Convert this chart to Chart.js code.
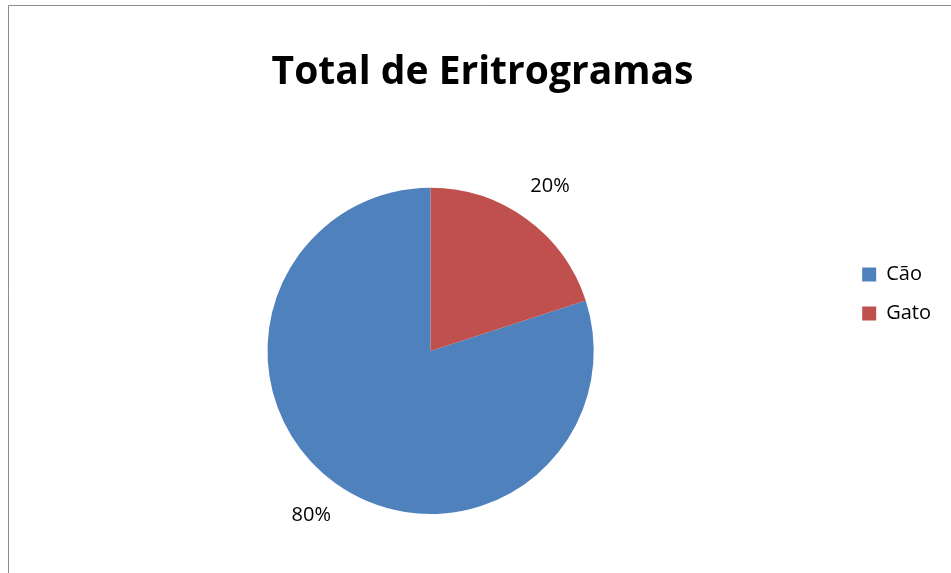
<!DOCTYPE html>
<html>
<head>
<meta charset="utf-8">
<script src="https://cdn.jsdelivr.net/npm/chart.js@4/dist/chart.umd.min.js"></script>
<style>
html,body{margin:0;padding:0;background:#fff;}
#wrap{width:951px;height:573px;position:relative;}
</style>
</head>
<body>
<div id="wrap"><canvas id="c" width="951" height="573"></canvas></div>
<script>
const categories = ['Cão', 'Gato'];
const values = [80, 20];
const percentLabels = ['80%', '20%'];
const colors = ['#4F81BD', '#C0504D'];
const chartTitle = 'Total de Eritrogramas';

const frame = {
  id: 'frame',
  beforeDraw(chart) {
    const ctx = chart.ctx;
    ctx.save();
    ctx.fillStyle = '#fff';
    ctx.fillRect(0, 0, chart.width, chart.height);
    ctx.strokeStyle = '#8c8c8c';
    ctx.lineWidth = 1;
    ctx.beginPath();
    ctx.moveTo(8.5, chart.height + 5);
    ctx.lineTo(8.5, 5.5);
    ctx.lineTo(chart.width + 5, 5.5);
    ctx.stroke();
    ctx.restore();
  }
};

const blockShift = {
  id: 'blockShift',
  afterLayout(chart) {
    const lg = chart.legend;
    const dy = 37;
    lg.top += dy; lg.bottom += dy;
    const tb = chart.titleBlock;
    tb.left += 3; tb.right += 3;
  }
};

const pctLabels = {
  id: 'pctLabels',
  afterDatasetsDraw(chart) {
    const ctx = chart.ctx;
    const meta = chart.getDatasetMeta(0);
    ctx.save();
    ctx.font = '20px "Open Sans"';
    ctx.fillStyle = '#000';
    ctx.textAlign = 'center';
    ctx.textBaseline = 'middle';
    meta.data.forEach((arc, i) => {
      const p = arc.getProps(['x','y','startAngle','endAngle','outerRadius'], true);
      const mid = (p.startAngle + p.endAngle) / 2;
      const r = p.outerRadius + 40;
      ctx.fillText(percentLabels[i], p.x + Math.cos(mid) * r, p.y + Math.sin(mid) * r);
    });
    ctx.restore();
  }
};

new Chart(document.getElementById('c'), {
  type: 'pie',
  data: {
    labels: categories,
    datasets: [{
      data: values,
      backgroundColor: colors,
      borderWidth: 0
    }]
  },
  options: {
    responsive: false,
    animation: false,
    rotation: 72,
    layout: { padding: { left: 18, right: 10, top: 0, bottom: 59 } },
    plugins: {
      title: {
        display: true,
        text: chartTitle,
        color: '#000',
        font: { family: 'Open Sans', size: 39, weight: 'bold' },
        padding: { top: 49, bottom: 92 }
      },
      legend: {
        display: true,
        position: 'right',
        labels: {
          color: '#000',
          font: { family: 'Open Sans', size: 20 },
          boxWidth: 14,
          boxHeight: 14,
          padding: 19
        }
      },
      tooltip: { enabled: false }
    }
  },
  plugins: [frame, blockShift, pctLabels]
});
</script>
</body>
</html>
